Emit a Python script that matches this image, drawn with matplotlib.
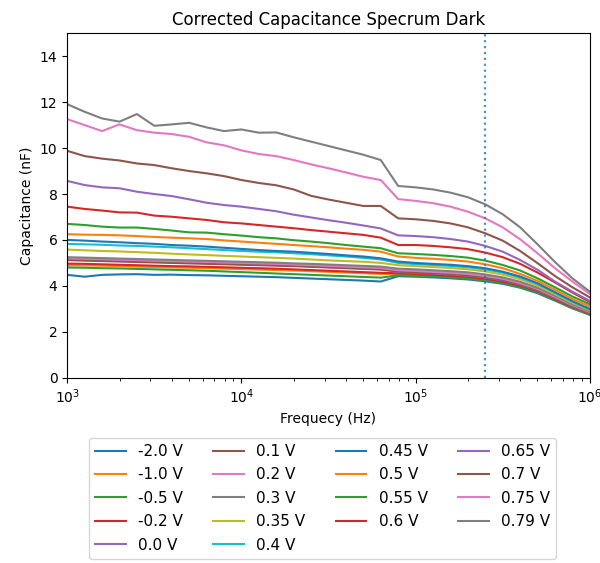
import matplotlib
matplotlib.use("Agg")
import matplotlib.pyplot as plt

# frequencies (Hz), 10 points per decade
freqs = [1000, 1259, 1585, 1995, 2512, 3162, 3981, 5012, 6310, 7943,
         10000, 12589, 15849, 19953, 25119, 31623, 39811, 50119, 63096, 79433,
         100000, 125893, 158489, 199526, 251189, 316228, 398107, 501187, 630957, 794328,
         1000000]

voltajes = ['-2.0 V', '-1.0 V', '-0.5 V', '-0.2 V', '0.0 V', '0.1 V', '0.2 V',
            '0.3 V', '0.35 V', '0.4 V', '0.45 V', '0.5 V', '0.55 V', '0.6 V',
            '0.65 V', '0.7 V', '0.75 V', '0.79 V']

# capacitance (nF) per bias voltage
c_m20 = [4.48, 4.40, 4.48, 4.50, 4.51, 4.48, 4.49, 4.47, 4.46, 4.44, 4.42, 4.40, 4.38, 4.35, 4.32,
         4.29, 4.26, 4.23, 4.19, 4.42, 4.40, 4.37, 4.33, 4.28, 4.20, 4.09, 3.92, 3.68, 3.36, 3.02, 2.74]
c_m10 = [4.90, 4.89, 4.88, 4.86, 4.84, 4.82, 4.80, 4.79, 4.77, 4.75, 4.73, 4.71, 4.69, 4.67, 4.64,
         4.61, 4.58, 4.55, 4.52, 4.52, 4.49, 4.45, 4.41, 4.36, 4.28, 4.16, 3.98, 3.74, 3.41, 3.06, 2.77]
c_m05 = [4.80, 4.79, 4.77, 4.76, 4.74, 4.72, 4.70, 4.68, 4.66, 4.63, 4.60, 4.57, 4.54, 4.51, 4.48,
         4.45, 4.42, 4.39, 4.36, 4.46, 4.44, 4.41, 4.37, 4.32, 4.24, 4.13, 3.95, 3.71, 3.39, 3.04, 2.76]
c_m02 = [4.97, 4.96, 4.94, 4.92, 4.90, 4.88, 4.86, 4.85, 4.83, 4.81, 4.79, 4.77, 4.75, 4.72, 4.69,
         4.66, 4.63, 4.60, 4.57, 4.55, 4.52, 4.48, 4.44, 4.39, 4.31, 4.19, 4.01, 3.77, 3.43, 3.08, 2.79]
c_00 = [5.15, 5.13, 5.11, 5.09, 5.07, 5.05, 5.03, 5.01, 4.99, 4.97, 4.95, 4.93, 4.91, 4.88, 4.85,
        4.82, 4.79, 4.76, 4.73, 4.61, 4.58, 4.54, 4.50, 4.45, 4.37, 4.25, 4.06, 3.81, 3.47, 3.11, 2.82]
c_01 = [5.12, 5.10, 5.08, 5.06, 5.04, 5.02, 5.00, 4.98, 4.96, 4.94, 4.92, 4.90, 4.88, 4.86, 4.83,
        4.80, 4.77, 4.74, 4.71, 4.63, 4.60, 4.56, 4.52, 4.47, 4.39, 4.27, 4.08, 3.83, 3.49, 3.13, 2.84]
c_02 = [5.20, 5.18, 5.16, 5.14, 5.12, 5.10, 5.08, 5.06, 5.04, 5.02, 5.00, 4.98, 4.96, 4.93, 4.90,
        4.87, 4.84, 4.81, 4.78, 4.68, 4.65, 4.61, 4.57, 4.52, 4.43, 4.31, 4.12, 3.87, 3.52, 3.16, 2.86]
c_03 = [5.25, 5.23, 5.21, 5.19, 5.17, 5.15, 5.13, 5.11, 5.09, 5.07, 5.05, 5.03, 5.01, 4.98, 4.96,
        4.93, 4.90, 4.87, 4.84, 4.75, 4.72, 4.68, 4.64, 4.59, 4.50, 4.37, 4.18, 3.92, 3.57, 3.20, 2.89]
c_035 = [5.58, 5.55, 5.52, 5.50, 5.47, 5.44, 5.40, 5.37, 5.34, 5.31, 5.28, 5.25, 5.22, 5.19, 5.15,
         5.11, 5.08, 5.05, 5.00, 4.90, 4.86, 4.82, 4.78, 4.72, 4.63, 4.49, 4.29, 4.01, 3.64, 3.26, 2.94]
c_04 = [5.83, 5.81, 5.79, 5.76, 5.74, 5.71, 5.68, 5.64, 5.60, 5.56, 5.52, 5.49, 5.46, 5.42, 5.38,
        5.33, 5.28, 5.22, 5.15, 5.00, 4.95, 4.91, 4.87, 4.81, 4.72, 4.58, 4.37, 4.08, 3.70, 3.31, 2.98]
c_045 = [6.00, 5.97, 5.93, 5.90, 5.86, 5.83, 5.78, 5.75, 5.71, 5.66, 5.61, 5.56, 5.52, 5.49, 5.44,
         5.39, 5.33, 5.28, 5.20, 5.06, 5.00, 4.96, 4.92, 4.86, 4.77, 4.62, 4.41, 4.12, 3.73, 3.34, 3.00]
c_05 = [6.25, 6.23, 6.22, 6.20, 6.17, 6.13, 6.10, 6.07, 6.04, 5.98, 5.93, 5.88, 5.83, 5.78, 5.73,
        5.68, 5.62, 5.57, 5.49, 5.28, 5.22, 5.18, 5.13, 5.06, 4.94, 4.77, 4.52, 4.22, 3.83, 3.43, 3.10]
c_055 = [6.70, 6.65, 6.58, 6.54, 6.54, 6.48, 6.41, 6.33, 6.32, 6.25, 6.19, 6.12, 6.07, 5.99, 5.93,
         5.86, 5.78, 5.71, 5.64, 5.42, 5.39, 5.35, 5.30, 5.23, 5.10, 4.91, 4.67, 4.33, 3.94, 3.54, 3.20]
c_06 = [7.45, 7.35, 7.28, 7.20, 7.19, 7.06, 7.01, 6.94, 6.87, 6.77, 6.72, 6.65, 6.58, 6.51, 6.43,
        6.36, 6.29, 6.22, 6.10, 5.78, 5.78, 5.74, 5.68, 5.60, 5.45, 5.25, 4.96, 4.58, 4.15, 3.71, 3.30]
c_065 = [8.57, 8.39, 8.29, 8.25, 8.10, 8.00, 7.91, 7.77, 7.62, 7.52, 7.45, 7.35, 7.25, 7.10, 6.98,
         6.86, 6.75, 6.63, 6.50, 6.20, 6.17, 6.12, 6.04, 5.93, 5.74, 5.49, 5.13, 4.70, 4.19, 3.75, 3.35]
c_07 = [9.88, 9.65, 9.54, 9.46, 9.33, 9.26, 9.12, 9.00, 8.90, 8.78, 8.61, 8.48, 8.38, 8.20, 7.92,
        7.76, 7.62, 7.48, 7.48, 6.94, 6.90, 6.83, 6.72, 6.55, 6.29, 5.97, 5.52, 4.99, 4.43, 3.94, 3.50]
c_075 = [11.26, 11.00, 10.74, 11.03, 10.78, 10.67, 10.61, 10.49, 10.25, 10.12, 9.90, 9.74, 9.65, 9.48, 9.29,
         9.12, 8.94, 8.75, 8.61, 7.78, 7.70, 7.60, 7.45, 7.23, 6.94, 6.55, 6.03, 5.42, 4.77, 4.19, 3.65]
c_079 = [11.91, 11.58, 11.29, 11.15, 11.48, 10.97, 11.03, 11.10, 10.90, 10.74, 10.81, 10.67, 10.68, 10.47, 10.28,
         10.09, 9.90, 9.71, 9.48, 8.35, 8.29, 8.20, 8.06, 7.86, 7.55, 7.12, 6.55, 5.81, 5.04, 4.33, 3.75]

curvas = [c_m20, c_m10, c_m05, c_m02, c_00, c_01, c_02, c_03, c_035, c_04,
          c_045, c_05, c_055, c_06, c_065, c_07, c_075, c_079]

f_corte = 2.5e5  # marked frequency


def main():
    fig = plt.figure(figsize=(6.0, 5.63), dpi=100)
    ax = fig.add_axes([0.112, 0.329, 0.871, 0.612])
    for c, v in zip(curvas, voltajes):
        ax.plot(freqs, c, label=v)
    ax.axvline(f_corte, linestyle=':', linewidth=1.6, color='tab:blue', alpha=0.8)
    ax.set_xscale('log')
    ax.set_xlim(1e3, 1e6)
    ax.set_ylim(0, 15)
    ax.set_title('Corrected Capacitance Specrum Dark')
    ax.set_xlabel('Frequecy (Hz)')
    ax.set_ylabel('Capacitance (nF)')
    ax.legend(loc='upper left', bbox_to_anchor=(0.027, -0.152), ncol=4, fontsize=11,
              labelspacing=0.55)
    fig.savefig('out.png')


if __name__ == '__main__':
    main()
